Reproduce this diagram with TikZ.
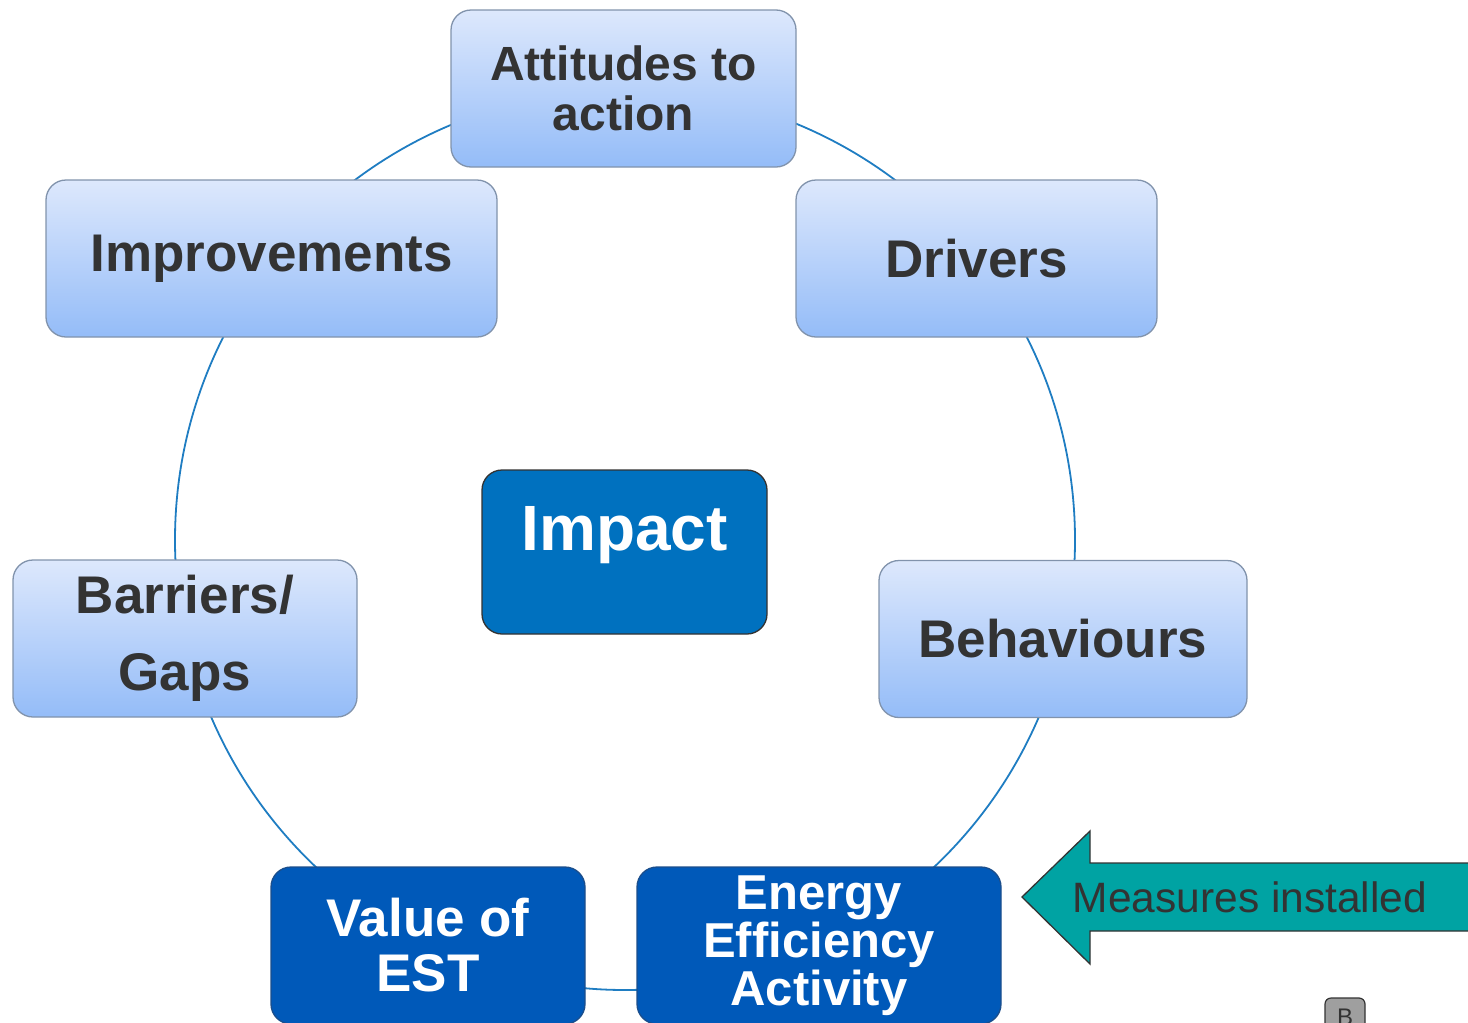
\documentclass[tikz,border=0pt]{standalone}
\usepackage{fontspec}
\setmainfont{Liberation Sans}
\usepackage{tikz}

\definecolor{boxtop}{HTML}{DDE8FC}
\definecolor{boxbot}{HTML}{94BCF8}
\definecolor{boxline}{HTML}{8193AC}
\definecolor{labelgray}{HTML}{333333}
\definecolor{ringblue}{HTML}{1F7DC2}
\definecolor{impactblue}{HTML}{0071BF}
\definecolor{deepblue}{HTML}{0059B9}
\definecolor{deepline}{HTML}{1B4E8C}
\definecolor{arrowteal}{HTML}{00A3A3}

\begin{document}
\begin{tikzpicture}[x=1pt,y=-1pt,
    ring/.style={draw=ringblue, line width=1.8pt},
    lightbox/.style={draw=boxline, line width=1.3pt, rounded corners=20pt,
        top color=boxtop, bottom color=boxbot, text=labelgray,
        align=center, minimum height=157pt, inner sep=0pt},
    darkbox/.style={draw=deepline, line width=1.3pt, rounded corners=20pt,
        fill=deepblue, text=white, align=center,
        minimum height=157pt, inner sep=0pt},
    bigfont/.style={font=\fontsize{53}{60}\selectfont\bfseries}]

    \useasboundingbox (0,0) rectangle (1468,1023);
    \clip (0,0) rectangle (1468,1023);

    \coordinate (ctr) at (625,540);
    \draw[ring] (ctr) circle [radius=450];

    \node[lightbox, minimum width=345pt, font=\fontsize{48}{50}\selectfont\bfseries]
        (attitudes) at (623.5,88.5) {Attitudes to\\action};
    \node[lightbox, minimum width=451pt, bigfont]
        (improve) at (271.5,258.5) {Improvements};
    \node[lightbox, minimum width=361pt, bigfont]
        (drivers) at (976.5,258.5) {Drivers};
    \node[lightbox, minimum width=344pt, font=\fontsize{53}{77}\selectfont\bfseries]
        (barriers) at (185,638.5) {Barriers/\\Gaps};
    \node[lightbox, minimum width=368pt, bigfont]
        (behaviours) at (1063,639) {Behaviours};

    \node[draw=labelgray, line width=1.3pt, rounded corners=20pt, fill=impactblue,
        text=white, minimum width=285pt, minimum height=164pt, inner sep=0pt,
        text height=50pt, text depth=54pt, font=\fontsize{64}{70}\selectfont\bfseries]
        (impact) at (624.5,552) {Impact};

    \node[darkbox, minimum width=314pt, font=\fontsize{53}{55}\selectfont\bfseries]
        (value) at (428,945.5) {Value of\\EST};
    \node[darkbox, minimum width=364pt, font=\fontsize{49}{48}\selectfont\bfseries]
        (energy) at (819,945.5) {Energy\\Efficiency\\Activity};

    \draw[draw=labelgray, line width=1.3pt, fill=arrowteal]
        (1022,897) -- (1090,831) -- (1090,863) -- (1490,863)
        -- (1490,931) -- (1090,931) -- (1090,964) -- cycle;
    \node[text=labelgray, font=\fontsize{42.5}{46}\selectfont]
        (measures) at (1250,897) {Measures installed};

    \node[draw=labelgray, line width=1.2pt, rounded corners=6pt, fill=gray!75,
        text=labelgray, minimum width=40pt, minimum height=38pt, inner sep=0pt,
        font=\fontsize{24}{26}\selectfont]
        (btn) at (1345,1017) {B};
\end{tikzpicture}
\end{document}
